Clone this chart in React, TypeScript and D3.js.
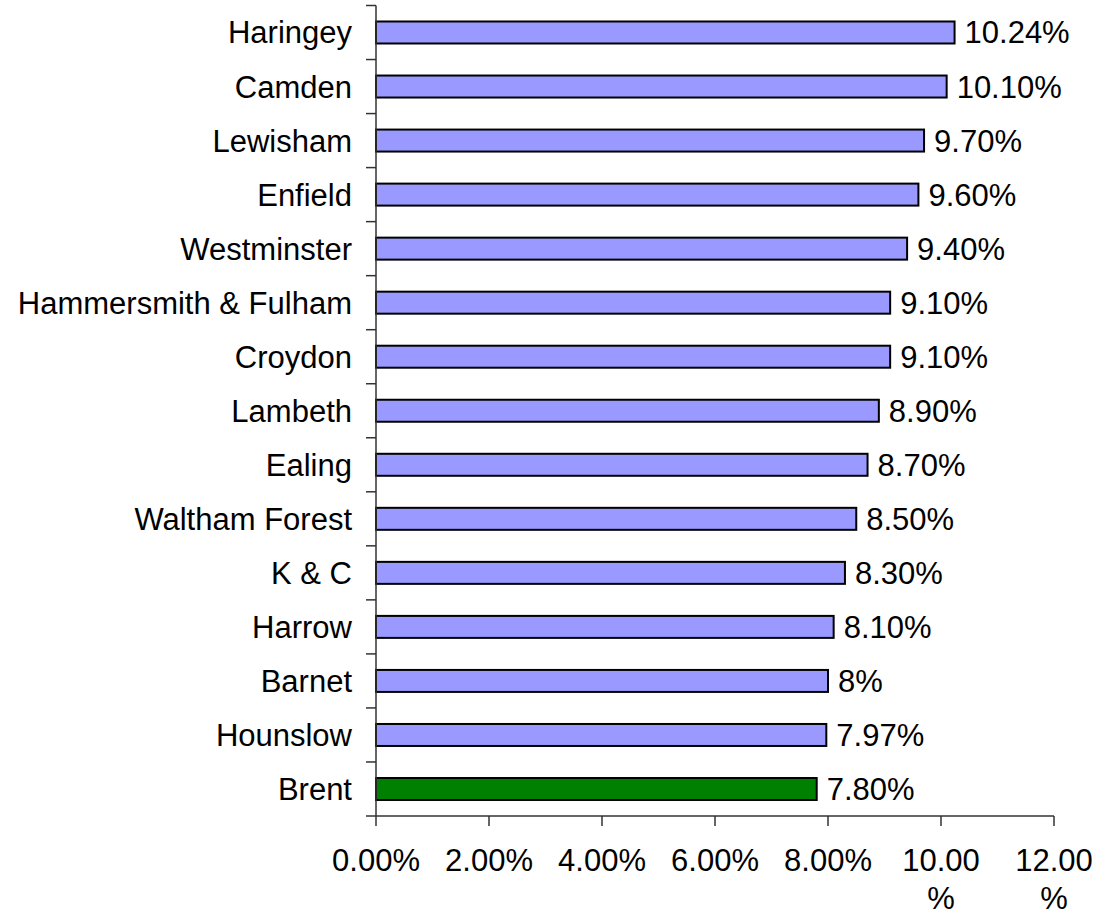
import React from "react";
import * as d3 from "d3";

const categories = [
  "Haringey", "Camden", "Lewisham", "Enfield", "Westminster",
  "Hammersmith & Fulham", "Croydon", "Lambeth", "Ealing", "Waltham Forest",
  "K & C", "Harrow", "Barnet", "Hounslow", "Brent",
];
const values = [10.24, 10.1, 9.7, 9.6, 9.4, 9.1, 9.1, 8.9, 8.7, 8.5, 8.3, 8.1, 8.0, 7.97, 7.8];
const valueLabels = [
  "10.24%", "10.10%", "9.70%", "9.60%", "9.40%", "9.10%", "9.10%", "8.90%",
  "8.70%", "8.50%", "8.30%", "8.10%", "8%", "7.97%", "7.80%",
];
const highlight = ["Brent"];
const xTicks = [0, 2, 4, 6, 8, 10, 12];
const xTickLabels = [["0.00%"], ["2.00%"], ["4.00%"], ["6.00%"], ["8.00%"], ["10.00", "%"], ["12.00", "%"]];

export default function App() {
  const W = 1099, H = 917;
  const left = 376, right = 1054, top = 5.5, bottom = 816;
  const x = d3.scaleLinear().domain([0, 12]).range([left, right]);
  const y = d3.scaleBand().domain(categories).range([top, bottom]).paddingInner(0.593).paddingOuter(0.296);
  const band = (bottom - top) / categories.length;
  const font = "'Liberation Sans', Arial, sans-serif";
  const fs = 31;
  return (
    <svg width={W} height={H} style={{ position: "absolute", left: 0, top: 0 }} fontFamily={font}>
      <rect x={0} y={0} width={W} height={H} fill="#fff" />
      {categories.map((c, i) => {
        const yc = (y(c) as number) + y.bandwidth() / 2;
        return (
          <g key={c}>
            <rect x={x(0)} y={y(c)} width={x(values[i]) - x(0)} height={y.bandwidth()}
              fill={highlight.includes(c) ? "#008000" : "#9999FF"} stroke="#000" strokeWidth={2} />
            <text x={352} y={yc + 11} textAnchor="end" fontSize={fs} fill="#000">{c}</text>
            <text x={x(values[i]) + 10} y={yc + 11} textAnchor="start" fontSize={fs} fill="#000">{valueLabels[i]}</text>
          </g>
        );
      })}
      <line x1={left} x2={left} y1={top} y2={bottom} stroke="#333" strokeWidth={1.5} />
      {d3.range(categories.length + 1).map((k) => (
        <line key={k} x1={366} x2={left} y1={top + k * band} y2={top + k * band} stroke="#333" strokeWidth={1.5} />
      ))}
      <line x1={left} x2={right} y1={bottom} y2={bottom} stroke="#333" strokeWidth={1.5} />
      {xTicks.map((t, i) => (
        <g key={t}>
          <line x1={x(t)} x2={x(t)} y1={bottom} y2={bottom + 10} stroke="#333" strokeWidth={1.5} />
          {xTickLabels[i].map((s, j) => (
            <text key={j} x={x(t)} y={871 + j * 38} textAnchor="middle" fontSize={fs} fill="#000">{s}</text>
          ))}
        </g>
      ))}
    </svg>
  );
}
